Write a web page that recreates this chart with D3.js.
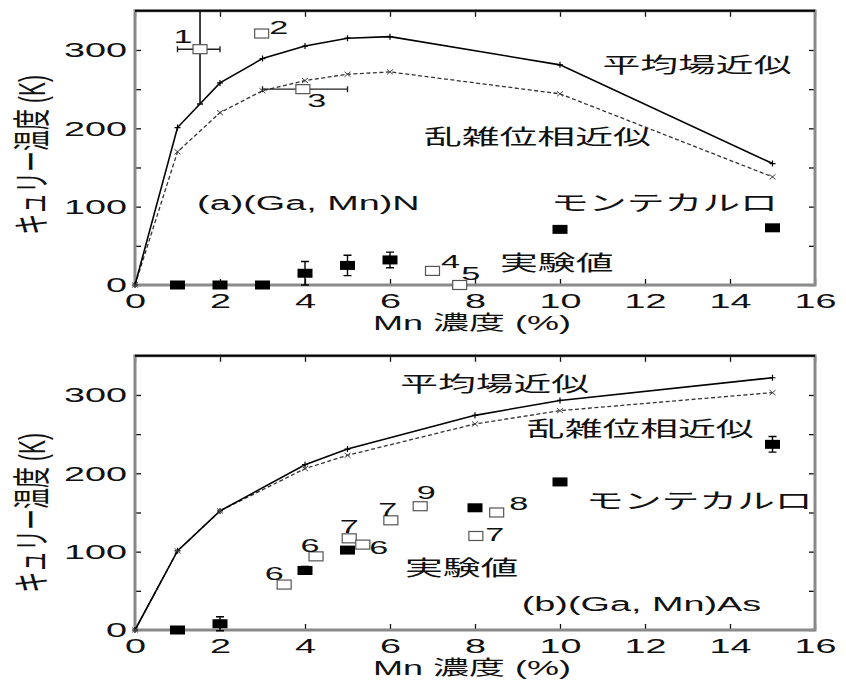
<!DOCTYPE html>
<html>
<head>
<meta charset="utf-8">
<script src="https://cdn.jsdelivr.net/npm/d3@7"></script>
<style>
  body { margin: 0; background: #fff; }
  text { font-family: 'Liberation Sans', Arial, 'Noto Sans CJK JP', sans-serif; fill: #111; }
</style>
</head>
<body>
<div id="chart"></div>
<script>
'use strict';

// (a) (Ga, Mn)N
var concTopLine = [0, 1, 2, 3, 4, 5, 6, 10, 15];
var meanFieldTop = [0, 201, 258, 289, 305, 315, 317, 281, 155];
var rpaTop = [0, 170, 220, 248, 261, 269, 272, 244, 138];
var concTopMC = [1, 2, 3, 4, 5, 6, 10, 15];
var monteCarloTop = [0, 0, 0, 15, 25, 32, 71, 73];
var monteCarloTopErr = [0, 0, 0, 15, 13, 10, 0, 0];
var concTopExp = [1.53, 2.98, 3.95, 7.0, 7.64];
var expTop = [301, 321, 250, 18, 0];
var expTopXErr = [[1.0, 2.0], null, [3.0, 5.0], null, null];
var expTopYErr = [[231, 400], null, null, [13, 23], null];
var expTopRefs = ['1', '2', '3', '4', '5'];

// (b) (Ga, Mn)As
var concBotLine = [0, 1, 2, 4, 5, 8, 10, 15];
var meanFieldBot = [0, 101, 152, 211, 231, 274, 293, 322];
var rpaBot = [0, 101, 152, 206, 223, 263, 280, 303];
var concBotMC = [1, 2, 4, 5, 8, 10, 15];
var monteCarloBot = [0, 8, 76, 102, 156, 189, 237];
var monteCarloBotErr = [0, 9, 5, 0, 0, 4, 10];
var concBotExp = [3.51, 4.26, 5.04, 5.36, 6.02, 6.71, 8.02, 8.51];
var expBot = [58, 94, 117, 109, 140, 158, 120, 150];
var expBotRefs = ['6', '6', '7', '6', '7', '9', '7', '8'];

var xTicks = d3.range(0, 17, 2);
var yTicks = d3.range(0, 351, 50);
var xTitle = 'Mn 濃度 (%)';
var yTitle = 'キュリー温度 (K)';

var W = 846, H = 681;
var STRETCH = 1.8;   // the picture is wide, glyphs are squeezed sideways

var svg = d3.select('#chart').append('svg')
    .attr('width', W)
    .attr('height', H);

function stretchText(g, x, y, str, size, anchor) {
    return g.append('text')
        .attr('transform', 'translate(' + x + ',' + y + ') scale(' + STRETCH + ',1)')
        .attr('text-anchor', anchor || 'start')
        .attr('dominant-baseline', 'central')
        .style('font-size', size + 'px')
        .text(str);
}

function drawPanel(cfg) {
    var left = 135, right = 815;
    var x = d3.scaleLinear().domain([0, 16]).range([left, right]);
    var y = d3.scaleLinear().domain([0, 350]).range([cfg.bottom, cfg.bottom - 274.2]);
    var top = y(350);
    var g = svg.append('g');

    // axes with inward ticks
    var bottomAxis = g.append('g')
        .attr('transform', 'translate(0,' + cfg.bottom + ')')
        .call(d3.axisBottom(x).tickValues(xTicks).tickSizeInner(-6).tickSizeOuter(0).tickPadding(8));
    bottomAxis.selectAll('text')
        .attr('transform', 'scale(' + STRETCH + ',1)');

    var leftAxis = g.append('g')
        .attr('transform', 'translate(' + left + ',0)')
        .call(d3.axisLeft(y).tickValues(yTicks).tickSizeInner(-6).tickSizeOuter(0).tickPadding(8)
            .tickFormat(function(d) { return d % 100 === 0 ? d : ''; }));
    leftAxis.selectAll('text')
        .attr('x', -8 / STRETCH)
        .attr('transform', 'scale(' + STRETCH + ',1)');

    g.append('g')
        .attr('transform', 'translate(0,' + top + ')')
        .call(d3.axisTop(x).tickValues(xTicks).tickSizeInner(-6).tickSizeOuter(0).tickFormat(''));
    g.append('g')
        .attr('transform', 'translate(' + right + ',0)')
        .call(d3.axisRight(y).tickValues(yTicks).tickSizeInner(-6).tickSizeOuter(0).tickFormat(''));

    g.selectAll('.domain').remove();
    g.selectAll('.tick text').style('font-size', '21px').attr('fill', '#111');
    g.selectAll('.tick line').attr('stroke', '#111').attr('stroke-width', 1.3);

    // frame: grey on three sides, black along the top
    g.append('rect')
        .attr('x', left).attr('y', top)
        .attr('width', right - left).attr('height', cfg.bottom - top)
        .attr('fill', 'none')
        .attr('stroke', '#8a8a8a')
        .attr('stroke-width', 3);
    g.append('line')
        .attr('x1', left).attr('x2', right)
        .attr('y1', top).attr('y2', top)
        .attr('stroke', '#000').attr('stroke-width', 2);

    // theory curves
    var line = d3.line()
        .x(function(d) { return x(d[0]); })
        .y(function(d) { return y(d[1]); });
    var mf = d3.zip(cfg.lineX, cfg.meanField);
    var rpa = d3.zip(cfg.lineX, cfg.rpa);

    g.append('path')
        .attr('d', line(rpa))
        .attr('fill', 'none')
        .attr('stroke', '#333')
        .attr('stroke-width', 1.3)
        .attr('stroke-dasharray', '4,2.5');
    g.append('path')
        .attr('d', line(mf))
        .attr('fill', 'none')
        .attr('stroke', '#000')
        .attr('stroke-width', 1.6);

    g.selectAll('.mfMark').data(mf).enter().append('path')
        .attr('d', function(d) {
            var px = x(d[0]), py = y(d[1]);
            return 'M' + (px - 3) + ',' + py + 'H' + (px + 3) + 'M' + px + ',' + (py - 3) + 'V' + (py + 3);
        })
        .attr('stroke', '#000').attr('stroke-width', 1.2);
    g.selectAll('.rpaMark').data(rpa).enter().append('path')
        .attr('d', function(d) {
            var px = x(d[0]), py = y(d[1]);
            return 'M' + (px - 3) + ',' + (py - 2.5) + 'L' + (px + 3) + ',' + (py + 2.5) +
                'M' + (px - 3) + ',' + (py + 2.5) + 'L' + (px + 3) + ',' + (py - 2.5);
        })
        .attr('stroke', '#444').attr('stroke-width', 1);

    // experimental error bars
    cfg.expX.forEach(function(cx, i) {
        var cy = cfg.exp[i];
        var xe = cfg.expXErr && cfg.expXErr[i];
        var ye = cfg.expYErr && cfg.expYErr[i];
        if (xe) {
            g.append('path')
                .attr('d', 'M' + x(xe[0]) + ',' + y(cy) + 'H' + x(xe[1]) +
                    'M' + x(xe[0]) + ',' + (y(cy) - 3) + 'V' + (y(cy) + 3) +
                    'M' + x(xe[1]) + ',' + (y(cy) - 3) + 'V' + (y(cy) + 3))
                .attr('stroke', '#222').attr('stroke-width', 1.4);
        }
        if (ye) {
            var hi = Math.min(ye[1], 350);
            g.append('path')
                .attr('d', 'M' + x(cx) + ',' + y(ye[0]) + 'V' + y(hi) +
                    'M' + (x(cx) - 3) + ',' + y(ye[0]) + 'H' + (x(cx) + 3))
                .attr('stroke', '#111').attr('stroke-width', 1.6);
        }
    });

    // Monte Carlo error bars and squares
    cfg.mcX.forEach(function(cx, i) {
        var err = cfg.mcErr[i];
        if (!err) {
            return;
        }
        var cy = cfg.mc[i];
        g.append('path')
            .attr('d', 'M' + x(cx) + ',' + y(cy - err) + 'V' + y(cy + err) +
                'M' + (x(cx) - 4) + ',' + y(cy - err) + 'H' + (x(cx) + 4) +
                'M' + (x(cx) - 4) + ',' + y(cy + err) + 'H' + (x(cx) + 4))
            .attr('stroke', '#000').attr('stroke-width', 1.4);
    });
    g.selectAll('.mc').data(d3.zip(cfg.mcX, cfg.mc)).enter().append('rect')
        .attr('x', function(d) { return x(d[0]) - 7.5; })
        .attr('y', function(d) { return y(d[1]) - 4.5; })
        .attr('width', 15)
        .attr('height', 9)
        .attr('fill', '#000');

    g.selectAll('.exp').data(d3.zip(cfg.expX, cfg.exp)).enter().append('rect')
        .attr('x', function(d) { return x(d[0]) - 7; })
        .attr('y', function(d) { return y(d[1]) - 4.5; })
        .attr('width', 14)
        .attr('height', 9)
        .attr('fill', '#fff')
        .attr('stroke', '#555')
        .attr('stroke-width', 1.2);

    // reference numbers beside the measured points
    cfg.expX.forEach(function(cx, i) {
        var off = cfg.refOffsets[i];
        stretchText(g, x(cx) + off[0], y(cfg.exp[i]) + off[1], cfg.refs[i], 19, 'middle')
            .attr('fill', '#333');
    });

    // curve and panel captions
    cfg.notes.forEach(function(n) {
        stretchText(g, x(n.at[0]), y(n.at[1]), n.text, 21, 'start');
    });

    stretchText(g, 472, cfg.bottom + 38, xTitle, 20, 'middle');
    g.append('text')
        .attr('transform', 'translate(31,' + cfg.yTitleAt + ') scale(' + STRETCH + ',1) rotate(-90)')
        .attr('text-anchor', 'middle')
        .attr('dominant-baseline', 'central')
        .style('font-size', '21px')
        .text(yTitle);
}

drawPanel({
    bottom: 285,
    yTitleAt: 155,
    lineX: concTopLine, meanField: meanFieldTop, rpa: rpaTop,
    mcX: concTopMC, mc: monteCarloTop, mcErr: monteCarloTopErr,
    expX: concTopExp, exp: expTop, expXErr: expTopXErr, expYErr: expTopYErr,
    refs: expTopRefs,
    refOffsets: [[-17, -13], [17, -6], [14, 11], [18, -9], [11, -12]],
    notes: [
        { text: '平均場近似', at: [11.0, 281] },
        { text: '乱雑位相近似', at: [6.8, 189] },
        { text: '(a)(Ga, Mn)N', at: [1.46, 105] },
        { text: 'モンテカルロ', at: [9.79, 105] },
        { text: '実験値', at: [8.59, 29] }
    ]
});

drawPanel({
    bottom: 630,
    yTitleAt: 513,
    lineX: concBotLine, meanField: meanFieldBot, rpa: rpaBot,
    mcX: concBotMC, mc: monteCarloBot, mcErr: monteCarloBotErr,
    expX: concBotExp, exp: expBot,
    refs: expBotRefs,
    refOffsets: [[-10, -11], [-6, -11], [0, -12], [16, 3], [-3, -11], [6, -14], [19, -2], [22, -9]],
    notes: [
        { text: '平均場近似', at: [6.24, 315] },
        { text: '乱雑位相近似', at: [9.22, 257] },
        { text: 'モンテカルロ', at: [10.61, 166] },
        { text: '実験値', at: [6.35, 80] },
        { text: '(b)(Ga, Mn)As', at: [9.1, 34.5] }
    ]
});
</script>
</body>
</html>
